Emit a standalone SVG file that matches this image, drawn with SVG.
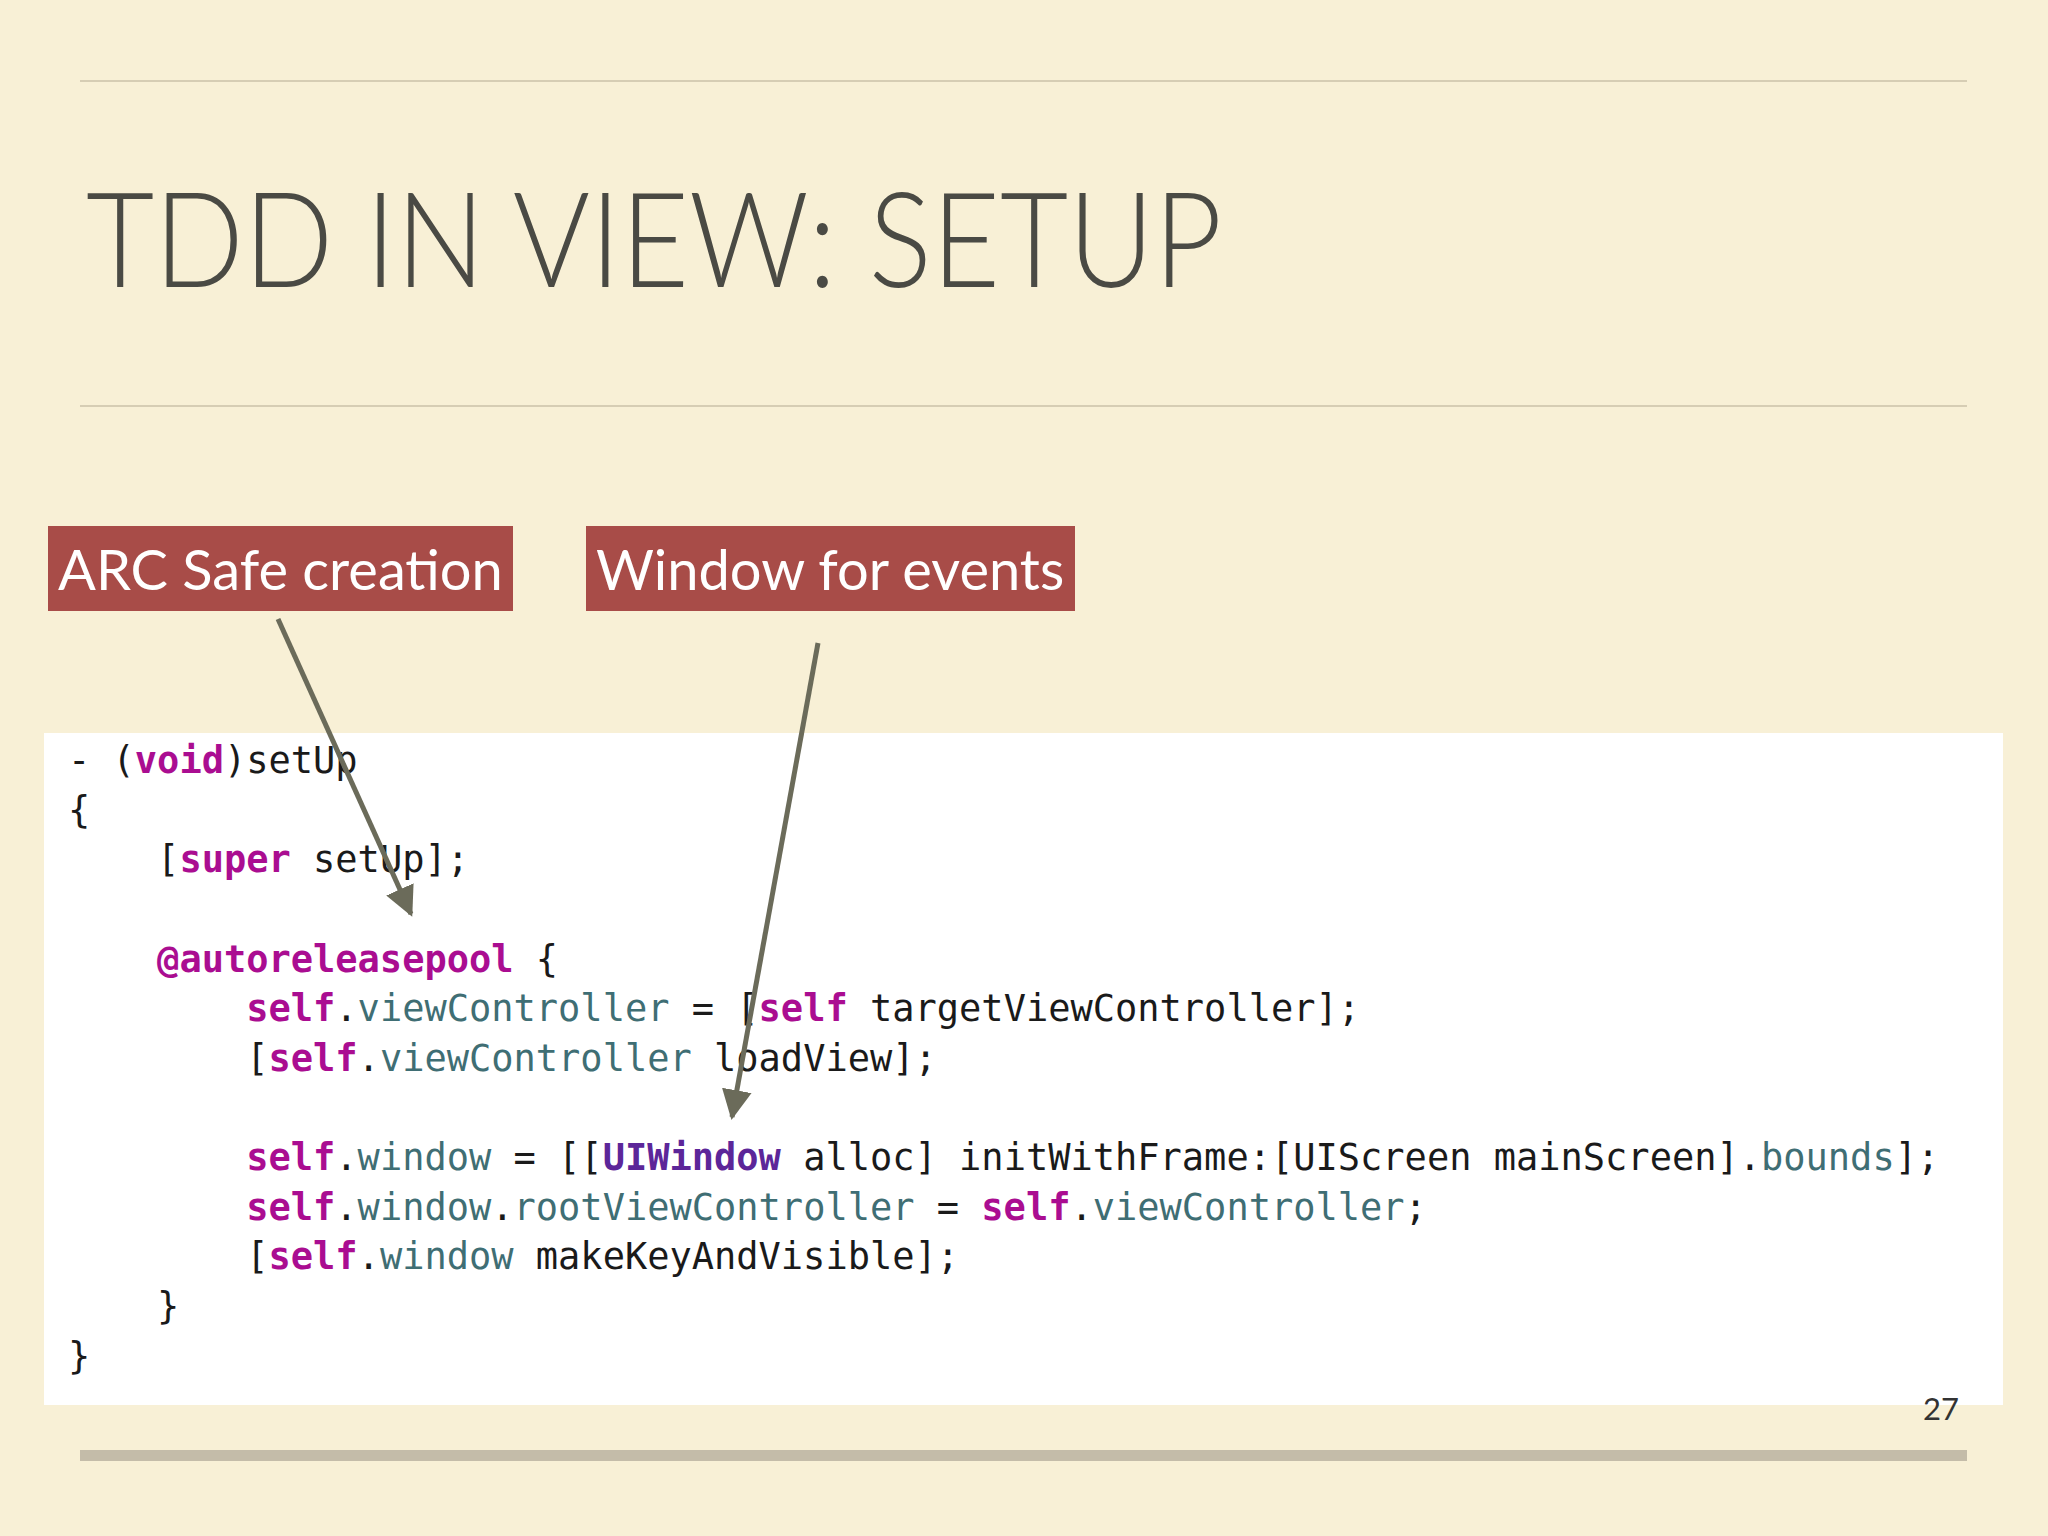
<svg xmlns="http://www.w3.org/2000/svg" width="2048" height="1536" viewBox="0 0 2048 1536">
<defs>
<style>
.code{font-family:"DejaVu Sans Mono","Liberation Mono",monospace;font-size:37px;fill:#1a1a1a;white-space:pre}
.k{fill:#aa0d91;font-weight:bold}
.p{fill:#3f6e74}
.c{fill:#5c2699;font-weight:bold}
.lbl{font-family:"Lato","Open Sans",sans-serif;font-size:56px;fill:#ffffff}
.arr{stroke:#6b6b5a;stroke-width:5;fill:none}
</style>
<marker id="ah" viewBox="0 0 10 10" refX="9" refY="5" markerWidth="6" markerHeight="6" orient="auto" markerUnits="strokeWidth"><path d="M0,0 L10,5 L0,10 z" fill="#6b6b5a"/></marker>
</defs>
<rect width="2048" height="1536" fill="#f8f0d6"/>
<line x1="80" y1="81" x2="1967" y2="81" stroke="#d6cdb4" stroke-width="2"/>
<text x="86" y="287" font-family="Lato, 'Open Sans', sans-serif" font-weight="300" font-size="132" fill="#4a4a44" textLength="1136" lengthAdjust="spacingAndGlyphs">TDD IN VIEW: SETUP</text>
<line x1="80" y1="406" x2="1967" y2="406" stroke="#d6cdb4" stroke-width="2"/>
<g id="panel"><rect x="44" y="733" width="1959" height="672" fill="#ffffff"/>
<text class="code" xml:space="preserve"><tspan x="68" y="773">- (<tspan class="k">void</tspan>)setUp</tspan><tspan x="68" y="823">{</tspan><tspan x="68" y="872">    [<tspan class="k">super</tspan> setUp];</tspan><tspan x="68" y="972">    <tspan class="k">@autoreleasepool</tspan> {</tspan><tspan x="68" y="1021">        <tspan class="k">self</tspan>.<tspan class="p">viewController</tspan> = [<tspan class="k">self</tspan> targetViewController];</tspan><tspan x="68" y="1071">        [<tspan class="k">self</tspan>.<tspan class="p">viewController</tspan> loadView];</tspan><tspan x="68" y="1170">        <tspan class="k">self</tspan>.<tspan class="p">window</tspan> = [[<tspan class="c">UIWindow</tspan> alloc] initWithFrame:[UIScreen mainScreen].<tspan class="p">bounds</tspan>];</tspan><tspan x="68" y="1220">        <tspan class="k">self</tspan>.<tspan class="p">window</tspan>.<tspan class="p">rootViewController</tspan> = <tspan class="k">self</tspan>.<tspan class="p">viewController</tspan>;</tspan><tspan x="68" y="1269">        [<tspan class="k">self</tspan>.<tspan class="p">window</tspan> makeKeyAndVisible];</tspan><tspan x="68" y="1319">    }</tspan><tspan x="68" y="1369">}</tspan></text></g>
<g id="node-arc"><rect x="48" y="526" width="465" height="85" fill="#a84c48"/><text class="lbl" x="58" y="590">ARC Safe creation</text></g>
<g id="node-window"><rect x="586" y="526" width="489" height="85" fill="#a84c48"/><text class="lbl" x="596" y="590">Window for events</text></g>
<g id="connectors">
<line class="arr" x1="278" y1="619" x2="411" y2="914" marker-end="url(#ah)"/>
<line class="arr" x1="818" y1="643" x2="732" y2="1117" marker-end="url(#ah)"/>
</g>
<text x="1959" y="1420" text-anchor="end" font-family="Lato, 'Open Sans', sans-serif" font-size="31" fill="#333">27</text>
<rect x="80" y="1450" width="1887" height="11" fill="#c4bca9"/>
</svg>
